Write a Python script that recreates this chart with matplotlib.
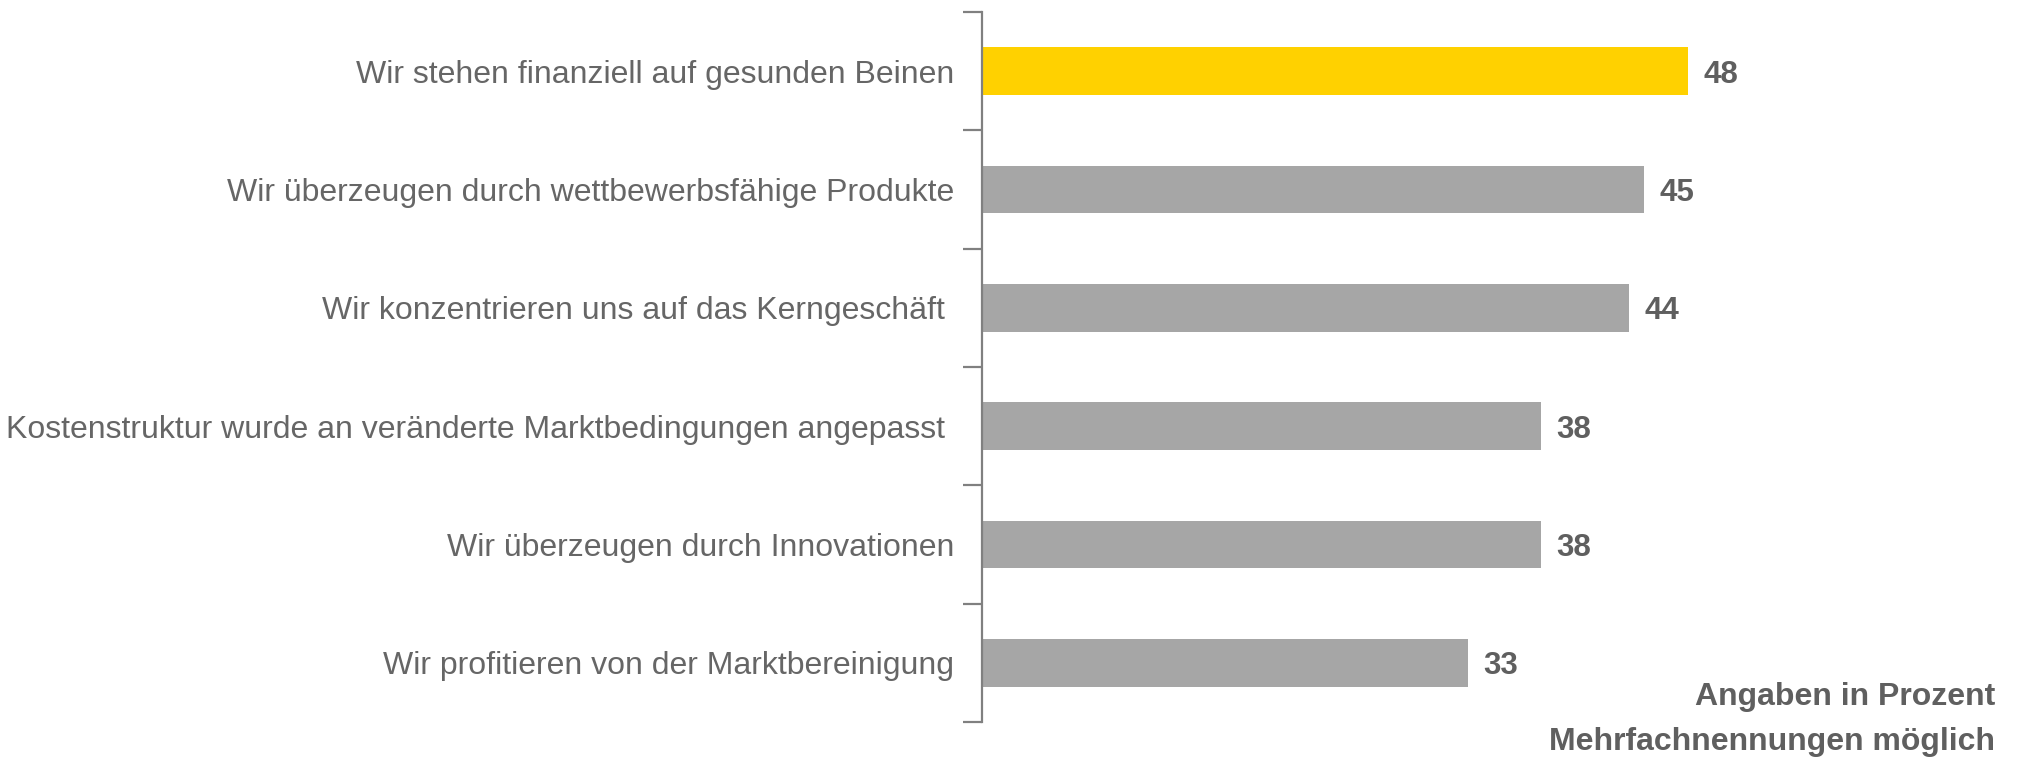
import matplotlib.pyplot as plt

plt.rcParams['font.family'] = ['Liberation Sans', 'DejaVu Sans']

# data
labels = [
    'Wir stehen finanziell auf gesunden Beinen',
    'Wir überzeugen durch wettbewerbsfähige Produkte',
    'Wir konzentrieren uns auf das Kerngeschäft ',
    'Kostenstruktur wurde an veränderte Marktbedingungen angepasst ',
    'Wir überzeugen durch Innovationen',
    'Wir profitieren von der Marktbereinigung',
]
values = [48, 45, 44, 38, 38, 33]
colors = ['#FFD100', '#A6A6A6', '#A6A6A6', '#A6A6A6', '#A6A6A6', '#A6A6A6']

W, H = 2017, 759
fig = plt.figure(figsize=(W / 100, H / 100), dpi=100)
ax = fig.add_axes([982 / W, 37 / H, 1030 / W, 710 / H])

y = list(range(len(labels)))
ax.barh(y, values, height=0.405, color=colors)
ax.set_ylim(len(labels) - 0.5, -0.5)
ax.set_xlim(0, 70)

# category labels without tick marks, ticks at slot boundaries
ax.set_yticks(y)
ax.set_yticklabels(labels, fontsize=23, color='#666666')
ax.tick_params(axis='y', which='major', length=0, pad=20)
ax.set_yticks([i - 0.5 for i in range(len(labels) + 1)], minor=True)
ax.tick_params(axis='y', which='minor', length=14, width=1.6, color='#808080')

ax.set_xticks([])
for s in ['top', 'right', 'bottom']:
    ax.spines[s].set_visible(False)
ax.spines['left'].set_color('#808080')
ax.spines['left'].set_linewidth(1.6)

for yi, v in zip(y, values):
    ax.annotate(str(v), (v, yi), xytext=(11, 0), textcoords='offset points',
                va='center_baseline', ha='left', fontsize=22.5, fontweight='bold',
                color='#5F5F5F')

fig.text(1995 / W, 1 - 705 / H, 'Angaben in Prozent', ha='right', va='baseline',
         fontsize=23, fontweight='bold', color='#5F5F5F')
fig.text(1995 / W, 1 - 750 / H, 'Mehrfachnennungen möglich', ha='right', va='baseline',
         fontsize=23, fontweight='bold', color='#5F5F5F')

fig.savefig('out.png', dpi=100)
